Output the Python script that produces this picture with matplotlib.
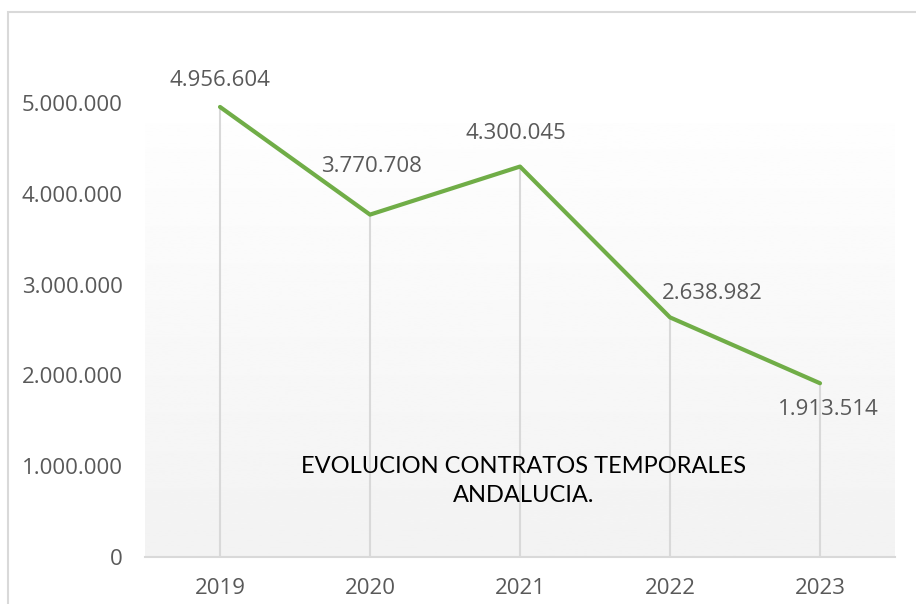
import numpy as np
import matplotlib.pyplot as plt
from matplotlib.ticker import FuncFormatter

# datos
anios = ['2019', '2020', '2021', '2022', '2023']
contratos = [4956604, 3770708, 4300045, 2638982, 1913514]
y_ticks = [0, 1000000, 2000000, 3000000, 4000000, 5000000]

# desplazamiento de las etiquetas (pixeles)
offsets = [(0, 26), (1, 48), (-4, 33), (42, 24), (8, -26)]


def miles(v):
    return f'{int(v):,}'.replace(',', '.')


fig = plt.figure(figsize=(9.16, 6.04), dpi=100)
ax = fig.add_axes([145 / 916, 1 - 557 / 604, 750 / 916, (557 - 30) / 604])

x = np.arange(len(anios))
ax.set_xlim(-0.5, len(anios) - 0.5)
ax.set_ylim(0, 527 / 90.8 * 1e6)

# fondo degradado del area de trazado
grad = np.linspace(0.95, 0.995, 256).reshape(-1, 1)
ax.imshow(grad, extent=(-0.5, len(anios) - 0.5, 0, 434 / 90.8 * 1e6),
          cmap='gray', vmin=0, vmax=1, aspect='auto', zorder=0, origin='lower')

# lineas de caida
ax.vlines(x, 0, contratos, color='#D9D9D9', lw=1.5, zorder=1)
ax.plot(x, contratos, color='#70AD47', lw=3, solid_capstyle='round', zorder=3)

for xi, v, off in zip(x, contratos, offsets):
    ax.annotate(miles(v), (xi, v), xytext=off, textcoords='offset pixels',
                ha='center', va='center', fontsize=16, color='#595959',
                family='Open Sans')

ax.set_xticks(x)
ax.set_xticklabels(anios)
ax.set_yticks(y_ticks)
ax.yaxis.set_major_formatter(FuncFormatter(lambda v, p: miles(v)))
ax.tick_params(length=0, labelsize=16, labelcolor='#595959')
ax.tick_params(axis='x', pad=15)
ax.tick_params(axis='y', pad=16)
for lab in ax.get_xticklabels() + ax.get_yticklabels():
    lab.set_family('Open Sans')

for s in ['top', 'right', 'left']:
    ax.spines[s].set_visible(False)
ax.spines['bottom'].set_color('#D9D9D9')
ax.spines['bottom'].set_linewidth(1.5)
ax.set_facecolor('none')

fig.text(524 / 916, 1 - 481 / 604, 'EVOLUCION CONTRATOS TEMPORALES\nANDALUCIA.',
         ha='center', va='center', fontsize=17, family='Lato', color='black',
         linespacing=1.45)

# borde del grafico
fig.patches.append(plt.Rectangle((8 / 916, -0.1), 1.2, 1 - 12 / 604 + 0.1,
                                 transform=fig.transFigure, fill=False,
                                 ec='#D9D9D9', lw=1.5))

fig.savefig('out.png', dpi=100)
